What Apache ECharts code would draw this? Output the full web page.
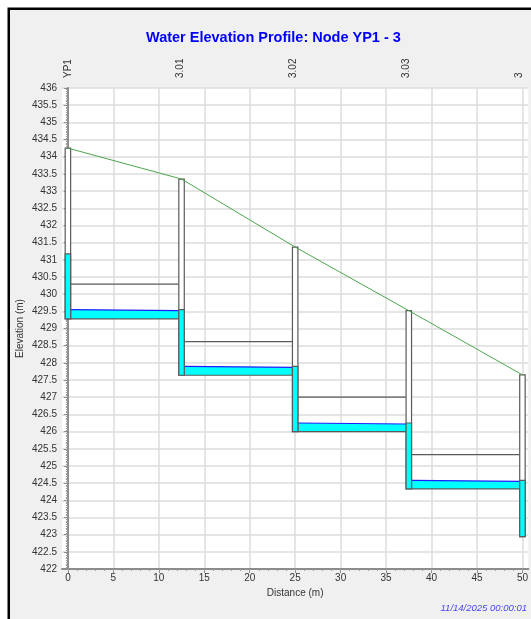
<!DOCTYPE html>
<html>
<head>
<meta charset="utf-8">
<script src="https://cdn.jsdelivr.net/npm/echarts@6.0.0/dist/echarts.min.js"></script>
<style>
  html, body { margin: 0; padding: 0; background: #fff; overflow: hidden; }
  #chart { width: 531px; height: 619px; }
</style>
</head>
<body>
<div id="chart"></div>
<script>
// nodes along the profile
const nodeNames = ['YP1', '3.01', '3.02', '3.03', '3'];
const nodeDist = [0, 12.5, 25, 37.5, 50];
const rimElev = [434.25, 433.35, 431.37, 429.52, 427.65];
const nodeInvert = [429.28, 427.64, 426.0, 424.33, 422.94];
const nodeWater = [431.17, 429.55, 427.9, 426.25, 424.58];

// pipes between nodes (upstream -> downstream)
const pipeInvert = [429.28, 427.64, 426.0, 424.33];
const pipeCrown = [430.29, 428.62, 427.0, 425.33];
const pipeWaterUp = [429.55, 427.9, 426.25, 424.58];
const pipeWaterDown = [429.52, 427.87, 426.22, 424.55];

// tick labels
const distTicks = [0, 5, 10, 15, 20, 25, 30, 35, 40, 45, 50];
const distMinorTicks = Array.from({length: 51}, (_, i) => i);

const HALF = 0.3; // half width of a manhole box (m)
const FONT = 'Liberation Sans, Arial, sans-serif';
const lineGray = '#5a5a5a';

let pipeData = pipeInvert.map((inv, i) => [nodeDist[i], nodeDist[i + 1], inv, pipeCrown[i], pipeWaterUp[i], pipeWaterDown[i]]);
let nodeData = nodeDist.map((d, i) => [d, nodeInvert[i], rimElev[i], nodeWater[i]]);

function renderPipe(params, api) {
    let x0 = api.value(0) + HALF, x1 = api.value(1) - HALF;
    let inv = api.value(2), crown = api.value(3), wu = api.value(4), wd = api.value(5);
    let a = api.coord([x0, inv]), b = api.coord([x1, inv]);
    let c = api.coord([x1, wd]), d = api.coord([x0, wu]);
    let e = api.coord([x0, crown]), f = api.coord([x1, crown]);
    return {
        type: 'group',
        children: [
            {type: 'polygon', shape: {points: [a, b, c, d]}, style: {fill: '#00ffff', stroke: null}},
            {type: 'line', shape: {x1: a[0], y1: a[1], x2: b[0], y2: b[1]}, style: {stroke: lineGray, lineWidth: 1.2}},
            {type: 'line', shape: {x1: d[0], y1: d[1], x2: c[0], y2: c[1]}, style: {stroke: '#1e1eff', lineWidth: 1.2}},
            {type: 'line', shape: {x1: e[0], y1: e[1], x2: f[0], y2: f[1]}, style: {stroke: lineGray, lineWidth: 1.2}}
        ]
    };
}

function renderNode(params, api) {
    let x = api.value(0), inv = api.value(1), rim = api.value(2), w = api.value(3);
    let tl = api.coord([x - HALF, rim]), br = api.coord([x + HALF, inv]);
    let wt = api.coord([x - HALF, w]);
    return {
        type: 'group',
        children: [
            {type: 'rect', shape: {x: tl[0], y: tl[1], width: br[0] - tl[0], height: br[1] - tl[1]},
                style: {fill: '#fff', stroke: lineGray, lineWidth: 1.2}},
            {type: 'rect', shape: {x: wt[0], y: wt[1], width: br[0] - wt[0], height: br[1] - wt[1]},
                style: {fill: '#00ffff', stroke: lineGray, lineWidth: 1.2}}
        ]
    };
}

let chart = echarts.init(document.getElementById('chart'));
chart.setOption({
    backgroundColor: '#fff',
    animation: false,
    title: {
        text: 'Water Elevation Profile: Node YP1 - 3',
        left: 146,
        top: 30,
        padding: 0,
        textStyle: {color: '#0000ff', fontSize: 14.5, fontWeight: 'bold', fontFamily: FONT}
    },
    graphic: [
        {type: 'rect', z: -100, shape: {x: 8.75, y: 8.75, width: 700, height: 700},
            style: {fill: '#f0f0f0', stroke: '#000', lineWidth: 2.5}},
        {type: 'text', x: 527, y: 608,
            style: {text: '11/14/2025 00:00:01', fill: '#4646f0', fontSize: 9.5, fontStyle: 'italic', fontFamily: FONT,
                align: 'right', verticalAlign: 'middle'}}
    ],
    grid: {
        left: 62, top: 88, width: 472, height: 481,
        show: true, backgroundColor: '#fff', borderWidth: 0
    },
    xAxis: [
        {
            type: 'value', min: -0.65, max: 50.65, position: 'bottom',
            name: 'Distance (m)', nameLocation: 'middle', nameGap: 17,
            nameTextStyle: {fontSize: 10, color: '#333', fontFamily: FONT},
            axisLine: {lineStyle: {color: '#8c8c8c', width: 2}},
            axisTick: {customValues: distTicks, length: 4, lineStyle: {color: '#8c8c8c'}},
            axisLabel: {customValues: distTicks, margin: 4, fontSize: 10, color: '#333', fontFamily: FONT},
            splitLine: {show: true, lineStyle: {color: '#dcdcdc', width: 1.5}}
        },
        {
            type: 'value', min: -0.65, max: 50.65, position: 'bottom',
            axisLine: {show: false},
            axisTick: {customValues: distMinorTicks, length: 2, lineStyle: {color: '#9a9a9a'}},
            axisLabel: {show: false},
            splitLine: {show: false}
        },
        {
            type: 'value', min: -0.65, max: 51.0, position: 'top',
            axisLine: {show: false},
            axisTick: {show: false},
            axisLabel: {
                customValues: nodeDist, rotate: -90, margin: 10, fontSize: 10, color: '#333', fontFamily: FONT,
                formatter: (v) => nodeNames[nodeDist.indexOf(v)]
            },
            splitLine: {show: false}
        }
    ],
    yAxis: {
        type: 'value', min: 422, max: 436, interval: 0.5,
        name: 'Elevation (m)', nameLocation: 'middle', nameGap: 37, nameMoveOverlap: false,
        nameTextStyle: {fontSize: 10, color: '#333', fontFamily: FONT},
        axisLine: {show: true, lineStyle: {color: '#8c8c8c', width: 2}},
        axisTick: {show: true, length: 4, lineStyle: {color: '#8c8c8c'}},
        minorTick: {show: true, splitNumber: 10, length: 2, lineStyle: {color: '#9a9a9a'}},
        axisLabel: {margin: 5, fontSize: 10, color: '#333', fontFamily: FONT},
        splitLine: {show: true, lineStyle: {color: '#dcdcdc', width: 1.5}}
    },
    series: [
        {
            type: 'custom', name: 'Pipes', xAxisIndex: 0, renderItem: renderPipe,
            encode: {x: [0, 1], y: [2, 3]}, data: pipeData, silent: true
        },
        {
            type: 'custom', name: 'Nodes', xAxisIndex: 0, renderItem: renderNode,
            encode: {x: 0, y: [1, 2]}, data: nodeData, silent: true
        },
        {
            type: 'line', name: 'Ground', xAxisIndex: 0, symbol: 'none',
            data: nodeDist.map((d, i) => [d, rimElev[i]]),
            lineStyle: {color: '#4ea64e', width: 1}, z: 5
        }
    ]
});
</script>
</body>
</html>
